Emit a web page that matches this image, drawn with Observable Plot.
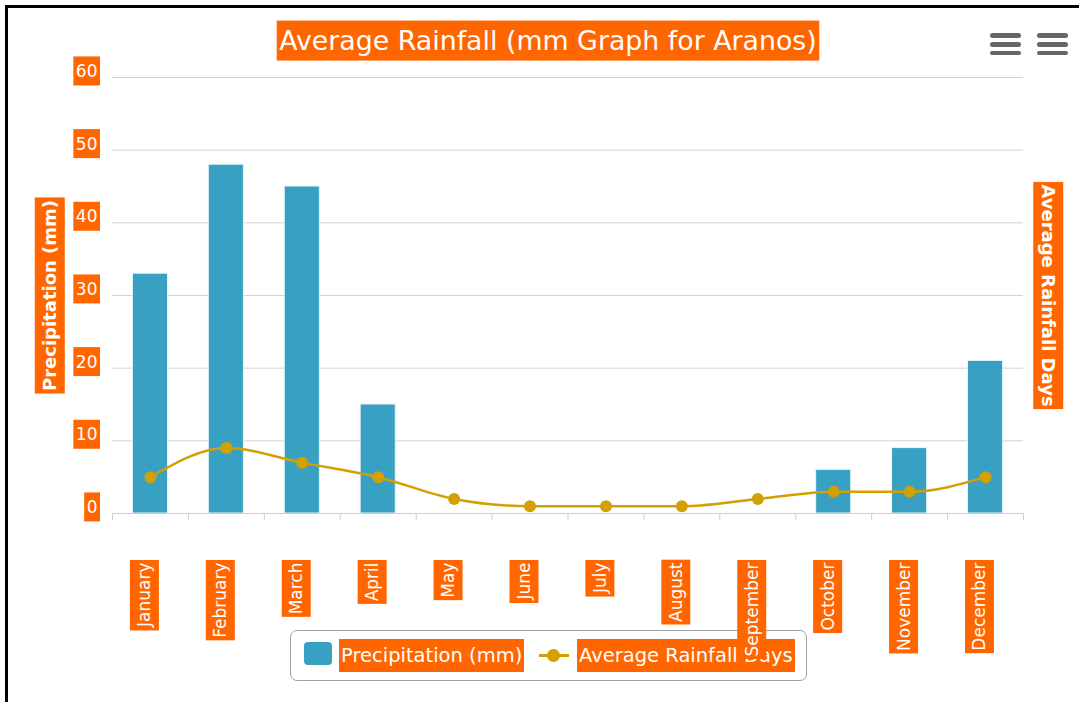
<!DOCTYPE html>
<html>
<head>
<meta charset="utf-8">
<script src="https://cdn.jsdelivr.net/npm/d3@7"></script>
<script src="https://cdn.jsdelivr.net/npm/@observablehq/plot@0.6"></script>
<style>
  html, body { margin: 0; padding: 0; background: #fff; overflow: hidden; }
  #wrap { position: relative; width: 1079px; height: 702px; overflow: hidden; font-family: "DejaVu Sans", sans-serif; }
  #frame { position: absolute; left: 5px; top: 5px; width: 1200px; height: 900px; border: 3px solid #000; }
  #chart { position: absolute; left: 0; top: 0; z-index: 2; }
  #chart svg g[aria-label^="x-axis"] line, #chart svg g[aria-label^="x-axis"] path { stroke: #c0d0e0 !important; }
  .legend { position: absolute; left: 290px; top: 630px; width: 517px; height: 51px; box-sizing: border-box;
            border: 1px solid #a0a0a0; border-radius: 7px; background: #fff; z-index: 1; }
  .legend .sw { position: absolute; left: 13px; top: 11px; width: 28px; height: 23px; border-radius: 4px; }
  .legend .lbl { position: absolute; top: 8px; height: 33px; box-sizing: border-box; padding: 5px 2px; line-height: 23px;
                 font-size: 19.5px; color: #fff; background: #ff6600; white-space: nowrap; }
  .legend .ln { position: absolute; left: 248px; top: 23px; width: 30px; height: 3px; }
  .legend .dt { position: absolute; left: 256px; top: 18px; width: 13px; height: 13px; border-radius: 50%; }
  .menu { position: absolute; top: 33px; width: 31px; height: 22px; z-index: 3; }
  .menu div { position: absolute; left: 0; width: 100%; height: 4.5px; border-radius: 2.5px; background: #666; }
</style>
</head>
<body>
<div id="wrap">
  <div id="frame"></div>
  <div class="menu" style="left:990px"><div style="top:0"></div><div style="top:9px"></div><div style="top:17.5px"></div></div>
  <div class="menu" style="left:1037px"><div style="top:0"></div><div style="top:9px"></div><div style="top:17.5px"></div></div>
  <div class="legend" id="legend"></div>
  <div id="chart"></div>
</div>
<script>
// ---- data ----
const months = ["January","February","March","April","May","June","July","August","September","October","November","December"];
const precipitation = [33, 48, 45, 15, 0, 0, 0, 0, 0, 6, 9, 21];
const rainfallDays = [5, 9, 7, 5, 2, 1, 1, 1, 2, 3, 3, 5];
const yTicks = [0, 10, 20, 30, 40, 50, 60];
const titleText = "Average Rainfall (mm Graph for Aranos)";
const leftTitle = "Precipitation (mm)";
const rightTitle = "Average Rainfall Days";
const seriesNames = ["Precipitation (mm)", "Average Rainfall Days"];

const barColor = "#38a0c3";
const lineColor = "#d2a000";
const orange = "#ff6600";

const rows = months.map((m, i) => ({i, month: m, precip: precipitation[i], days: rainfallDays[i]}));
const boundaries = d3.range(months.length + 1);

const chart = Plot.plot({
  width: 1079,
  height: 702,
  marginLeft: 112,
  marginRight: 56,
  marginTop: 77,
  marginBottom: 189,
  style: {background: "transparent", fontFamily: "DejaVu Sans, sans-serif"},
  x: {domain: [0, months.length], ticks: boundaries, tickSize: 7, tickPadding: 0, tickFormat: () => "", label: null},
  y: {domain: [0, 60], axis: null},
  marks: [
    Plot.ruleY(yTicks.filter(v => v > 0), {stroke: "#d2d2d2", strokeWidth: 1}),
    Plot.rectY(rows.filter(d => d.precip > 0), {x1: d => d.i, x2: d => d.i + 1, y: "precip", fill: barColor,
      stroke: "#e8f4f8", strokeWidth: 1, insetLeft: 20.4, insetRight: 20.4}),
    Plot.ruleY([0], {stroke: "#c0d0e0", strokeWidth: 1}),
    Plot.line(rows, {x: d => d.i + 0.5, y: "days", stroke: lineColor, strokeWidth: 2.5, curve: "monotone-x"}),
    Plot.dot(rows, {x: d => d.i + 0.5, y: "days", r: 6, fill: lineColor, stroke: "none"}),
    // y tick labels
    Plot.text(yTicks, {y: d => d, text: d => String(d), frameAnchor: "left", textAnchor: "end",
      dx: -15, dy: -6, fill: "#fff", fontSize: 17}),
    // month labels
    Plot.text(rows, {x: d => d.i + 0.5, text: "month", frameAnchor: "bottom", lineAnchor: "middle",
      rotate: -90, textAnchor: "end", dx: -5.5, dy: 49, fill: "#fff", fontSize: 17}),
    // axis titles
    Plot.text([leftTitle], {text: d => d, frameAnchor: "left", lineAnchor: "middle", rotate: -90,
      textAnchor: "middle", dx: -62, fill: "#fff", fontSize: 18, fontWeight: "bold"}),
    Plot.text([rightTitle], {text: d => d, frameAnchor: "right", lineAnchor: "middle", rotate: 90,
      textAnchor: "middle", dx: 24, fill: "#fff", fontSize: 18, fontWeight: "bold"}),
    // title
    Plot.text([titleText], {text: d => d, frameAnchor: "top", lineAnchor: "middle", textAnchor: "middle",
      dx: -20, dy: -36, fill: "#fff", fontSize: 26.8})
  ]
});

document.getElementById("chart").append(chart);

// orange label boxes behind every text mark
const ns = "http://www.w3.org/2000/svg";
chart.querySelectorAll('g[aria-label="text"] text').forEach(t => {
  const bb = t.getBBox();
  const padX = 2.5, padY = 4.5;
  const r = document.createElementNS(ns, "rect");
  r.setAttribute("x", bb.x - padX);
  r.setAttribute("y", bb.y - padY);
  r.setAttribute("width", bb.width + 2 * padX);
  r.setAttribute("height", bb.height + 2 * padY);
  r.setAttribute("fill", orange);
  r.setAttribute("stroke", "none");
  const tr = t.getAttribute("transform");
  if (tr) r.setAttribute("transform", tr);
  t.parentNode.insertBefore(r, t);
});

// legend
const legend = document.getElementById("legend");
legend.innerHTML = `
  <div class="sw" style="background:${barColor}"></div>
  <div class="lbl" style="left:48px">${seriesNames[0]}</div>
  <div class="ln" style="background:${lineColor}"></div>
  <div class="dt" style="background:${lineColor}"></div>
  <div class="lbl" style="left:286px">${seriesNames[1]}</div>`;
</script>
</body>
</html>
